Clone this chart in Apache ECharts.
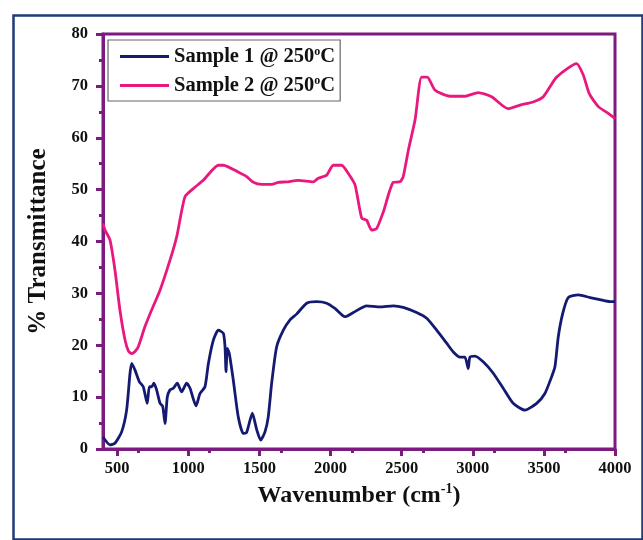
<!DOCTYPE html>
<html>
<head>
<meta charset="utf-8">
<script src="https://cdn.jsdelivr.net/npm/echarts@6/dist/echarts.min.js"></script>
<style>html,body{margin:0;padding:0;background:#fff}#c{width:643px;height:540px}</style>
</head>
<body>
<div id="c"></div>
<script>
var seriesNames = ['Sample 1 @ 250°C', 'Sample 2 @ 250°C'];
var xTicks = [500, 1000, 1500, 2000, 2500, 3000, 3500, 4000];
var yTicks = [0, 10, 20, 30, 40, 50, 60, 70, 80];

var s1Wavenumber = [400,449,484,531,566,590,602,625,655,683,711,726,743,758,777,801,820,836,852,871,894,922,953,988,1012,1031,1054,1082,1117,1141,1176,1211,1246,1258,1265,1274,1288,1316,1351,1386,1410,1450,1481,1509,1539,1562,1586,1621,1668,1715,1761,1832,1902,1973,2031,2101,2160,2254,2347,2441,2511,2605,2676,2746,2816,2863,2910,2945,2968,2980,3015,3073,3144,3214,3284,3367,3449,3507,3554,3578,3601,3632,3671,3742,3824,3894,3965,4000];
var s1Trans = [2.3,0.8,1.1,3.3,7.5,14.6,16.5,15.2,13,12,8.8,12,12,12.7,11.4,8.8,8.2,4.9,10,11.4,11.7,12.7,11,12.7,11.7,10,8.3,10.7,12,16.5,21,22.9,22.3,19.7,14.9,19.4,18.4,13.3,6.2,3,3.2,6.9,3.7,1.7,3.3,6.2,12.7,19.7,22.9,24.9,26,28.1,28.4,28.1,27.1,25.5,26.3,27.6,27.4,27.6,27.3,26.3,25.2,22.9,20.4,18.7,17.7,17.7,15.5,17.7,17.9,16.8,14.6,11.7,8.8,7.5,8.8,10.7,13.9,15.9,21.6,26.1,29.2,29.7,29.2,28.8,28.4,28.4];

var s2Wavenumber = [400,414,449,484,519,555,580,602,625,648,695,742,801,871,918,976,1035,1105,1211,1246,1363,1410,1457,1516,1586,1633,1691,1773,1878,1914,1973,2019,2078,2125,2172,2219,2254,2289,2324,2371,2441,2488,2511,2547,2594,2640,2680,2734,2839,2945,3038,3132,3249,3332,3425,3496,3590,3730,3777,3819,3883,3953,4000];
var s2Trans = [43.5,42.2,40.3,34.5,26.8,21,18.8,18.4,18.8,19.7,23.6,26.8,30.6,36.4,40.9,48.6,50.2,51.8,54.7,54.7,53.2,52.5,51.4,51,51,51.4,51.5,51.8,51.5,52.2,52.8,54.7,54.7,53.1,50.9,44.5,44.1,42.2,42.5,45.7,51.4,51.5,52.5,57.6,63.4,71.7,71.7,69.2,68,68,68.7,67.9,65.6,66.3,66.9,67.9,71.7,74.3,72.1,68.5,66,64.7,63.7];

function zip(a, b) { return a.map(function (v, i) { return [v, b[i]]; }); }

var purple = '#7B1B80';
var serif = 'Liberation Serif, Times New Roman, serif';
var chart = echarts.init(document.getElementById('c'), null, {renderer: 'canvas'});
chart.setOption({
  backgroundColor: '#fff',
  animation: false,
  graphic: [{
    type: 'rect', left: 11, top: 13,
    shape: {width: 629, height: 524},
    style: {fill: 'none', stroke: '#1F3A7A', lineWidth: 2.5},
    silent: true
  }],
  grid: {left: 103, right: 28, top: 34, bottom: 91, show: true, borderColor: purple, borderWidth: 3, backgroundColor: 'transparent'},
  legend: {
    orient: 'vertical', left: 108, top: 40,
    data: seriesNames,
    icon: 'rect', itemWidth: 49, itemHeight: 3, itemGap: 8,
    padding: [6, 5, 5, 12],
    borderColor: '#666', borderWidth: 1.2,
    formatter: function (n) { return n.replace('°', '{sup|o}'); },
    textStyle: {
      fontFamily: serif, fontWeight: 'bold', fontSize: 20.5, color: '#111',
      rich: {sup: {fontFamily: serif, fontWeight: 'bold', fontSize: 12, color: '#111', verticalAlign: 'top', padding: [0, 0, 9, 0]}}
    }
  },
  xAxis: {
    type: 'value', min: 400, max: 4000, interval: 500,
    name: 'Wavenumber (cm{sup|-1})', nameLocation: 'middle', nameGap: 28,
    nameTextStyle: {
      fontFamily: serif, fontWeight: 'bold', fontSize: 24, color: '#111',
      rich: {sup: {fontFamily: serif, fontWeight: 'bold', fontSize: 14, color: '#111', padding: [0, 0, 13, 0]}}
    },
    axisLine: {show: true, lineStyle: {color: purple, width: 3}},
    axisTick: {show: true, inside: false, length: 7, lineStyle: {color: purple, width: 3}, customValues: xTicks},
    minorTick: {show: true, splitNumber: 2, length: 4, lineStyle: {color: purple, width: 3}},
    splitLine: {show: false},
    axisLabel: {
      margin: 11, fontFamily: serif, fontWeight: 'bold', fontSize: 16.5, color: '#111',
      customValues: xTicks,
      formatter: function (v) { return String(v); }
    }
  },
  yAxis: {
    type: 'value', min: 0, max: 80, interval: 10,
    name: '% Transmittance', nameLocation: 'middle', nameGap: 52, nameRotate: 90,
    nameTextStyle: {fontFamily: serif, fontWeight: 'bold', fontSize: 25, color: '#111'},
    axisLine: {show: true, lineStyle: {color: purple, width: 3}},
    axisTick: {show: true, inside: false, length: 7, lineStyle: {color: purple, width: 3}},
    minorTick: {show: true, splitNumber: 2, length: 4, lineStyle: {color: purple, width: 3}},
    splitLine: {show: false},
    axisLabel: {margin: 15, fontFamily: serif, fontWeight: 'bold', fontSize: 16.5, color: '#111',
      formatter: function (v) { return String(v); }}
  },
  series: [
    {name: seriesNames[0], type: 'line', data: zip(s1Wavenumber, s1Trans), showSymbol: false, smooth: 0.2,
     lineStyle: {color: '#141A72', width: 2.8, join: 'round'}, itemStyle: {color: '#141A72'}},
    {name: seriesNames[1], type: 'line', data: zip(s2Wavenumber, s2Trans), showSymbol: false, smooth: 0.2,
     lineStyle: {color: '#E8187F', width: 2.8, join: 'round'}, itemStyle: {color: '#E8187F'}}
  ]
});
</script>
</body>
</html>
